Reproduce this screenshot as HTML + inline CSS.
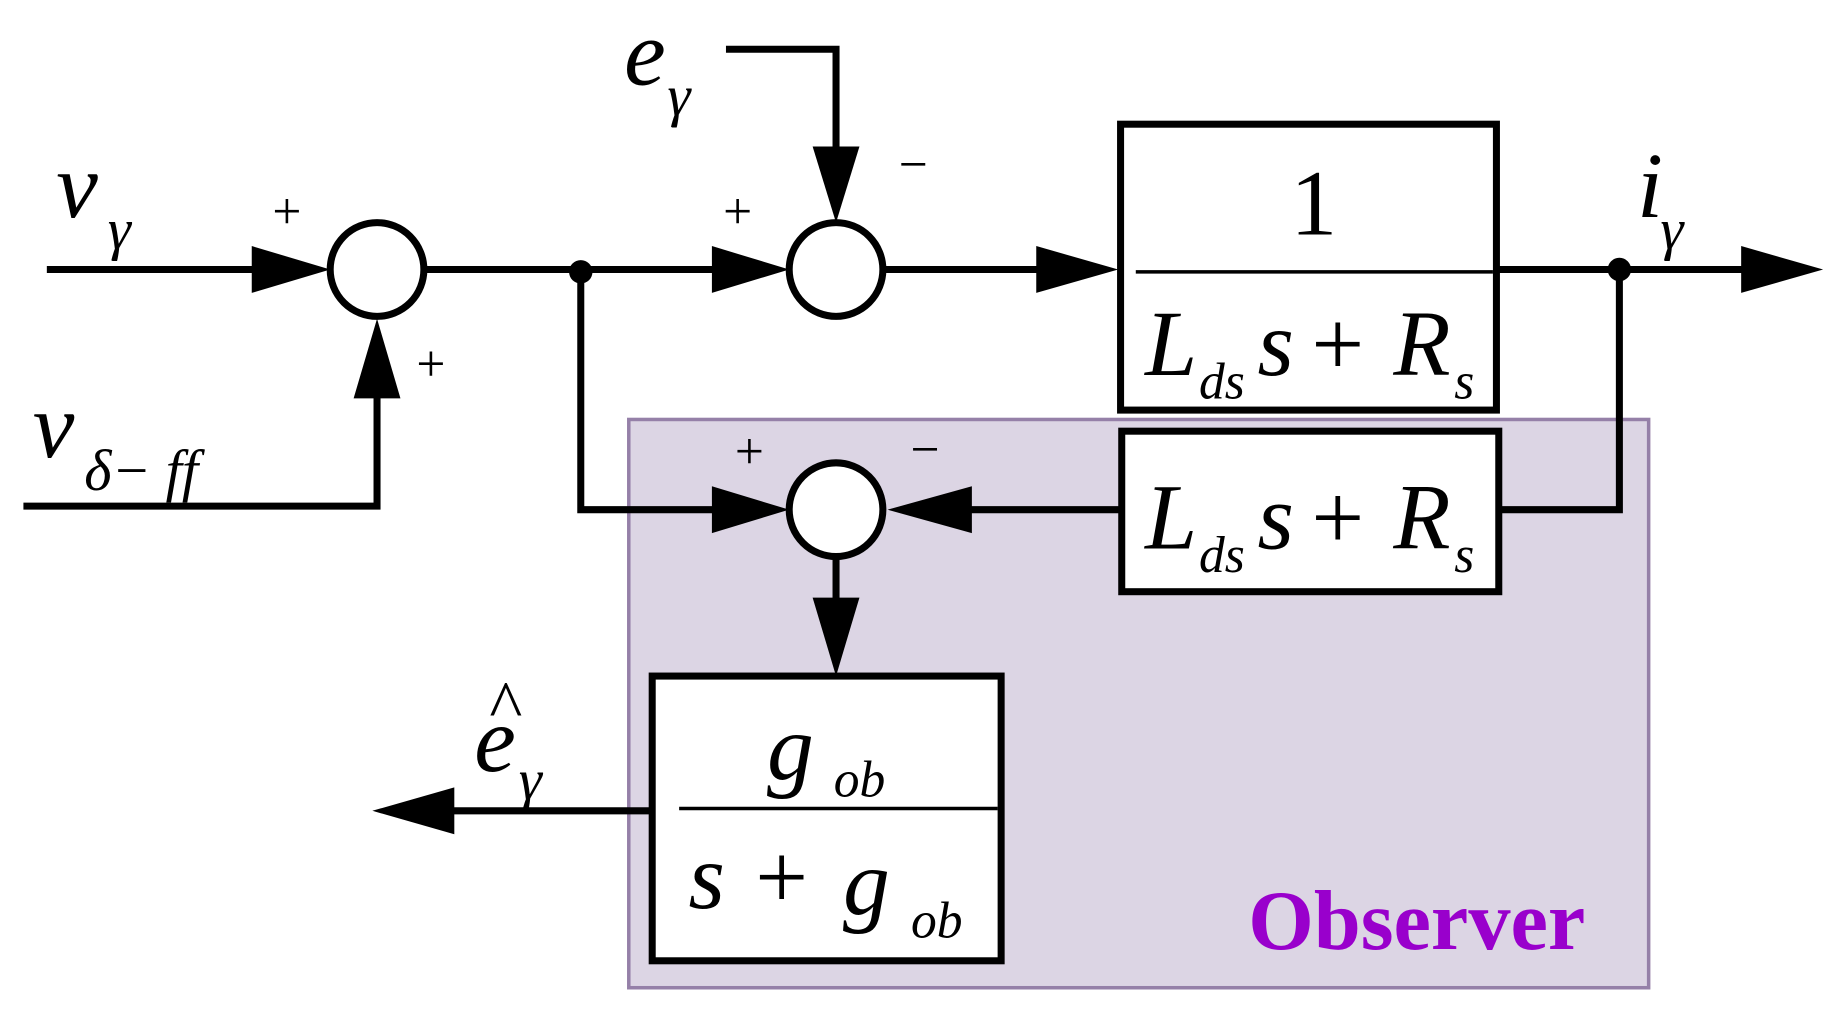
<!DOCTYPE html>
<html><head><meta charset="utf-8"><style>
html,body{margin:0;padding:0;background:#fff;width:1836px;height:1010px;overflow:hidden}
svg{display:block}
text{font-family:"Liberation Serif",serif}
.m{font-style:italic}
</style></head><body>
<svg width="1836" height="1010" viewBox="0 0 1568 862" preserveAspectRatio="none" xmlns="http://www.w3.org/2000/svg">
<rect x="537" y="358" width="871" height="485" fill="#dcd5e4" stroke="#9580a8" stroke-width="3"/>
<g stroke="#000" stroke-width="6" fill="none">
<line x1="40" y1="230" x2="225" y2="230"/>
<polyline points="20,432 322,432 322,335"/>
<line x1="362" y1="230" x2="615" y2="230"/>
<polyline points="620,42 714,42 714,130"/>
<line x1="754" y1="230" x2="890" y2="230"/>
<line x1="1278" y1="230" x2="1490" y2="230"/>
<polyline points="1383,230 1383,435 1280,435"/>
<line x1="958" y1="435" x2="825" y2="435"/>
<polyline points="496,232 496,435 615,435"/>
<line x1="714" y1="475" x2="714" y2="515"/>
<line x1="565" y1="692" x2="385" y2="692"/>
<rect x="957" y="106" width="321" height="244" fill="#fff"/>
<rect x="958" y="368" width="322" height="137" fill="#fff"/>
<rect x="557" y="577" width="298" height="243" fill="#fff"/>
<circle cx="322" cy="230" r="40" fill="#fff"/>
<circle cx="714" cy="230" r="40" fill="#fff"/>
<circle cx="714" cy="435" r="40" fill="#fff"/>
</g>
<g stroke="#000" stroke-width="3">
<line x1="970" y1="232" x2="1275" y2="232"/>
<line x1="580" y1="690" x2="852" y2="690"/>
</g>
<g fill="#000">
<polygon points="282,230 215,210 215,250"/>
<polygon points="322,272 302,340 342,340"/>
<polygon points="674,230 608,210 608,250"/>
<polygon points="714,190 694,125 734,125"/>
<polygon points="955,230 885,210 885,250"/>
<polygon points="1557,230 1487,210 1487,250"/>
<polygon points="758,435 830,415 830,455"/>
<polygon points="674,435 608,415 608,455"/>
<polygon points="714,577 694,510 734,510"/>
<polygon points="318,692 388,672 388,712"/>
<circle cx="496" cy="232" r="10"/>
<circle cx="1383" cy="230" r="10"/>
</g>
<g font-size="44" text-anchor="middle">
<text x="245" y="195">+</text>
<text x="368" y="325">+</text>
<text x="630" y="195">+</text>
<text x="780" y="155">−</text>
<text x="640" y="400">+</text>
<text x="790" y="398">−</text>
</g>
<g font-size="80" class="m">
<text x="48" y="185">v</text><text x="92" y="212" font-size="50">γ</text>
<text x="28" y="390">v</text><text x="72" y="418" font-size="50">δ− ff</text>
<text x="533" y="72">e</text><text x="570" y="98" font-size="50">γ</text>
<text x="1398" y="185">i</text><text x="1418" y="212" font-size="50">γ</text>
<text x="405" y="658">e</text><text x="418" y="622" font-size="60" font-style="normal">^</text><text x="443" y="682" font-size="50">γ</text>
</g>
<text x="1122" y="200" font-size="80" text-anchor="middle">1</text>
<g font-size="80">
<text x="978" y="320" class="m">L</text><text x="1024" y="340" font-size="44" class="m">ds</text><text x="1074" y="320" class="m">s</text><text x="1120" y="320">+</text><text x="1190" y="320" class="m">R</text><text x="1242" y="340" font-size="44" class="m">s</text>
<text x="978" y="468" class="m">L</text><text x="1024" y="488" font-size="44" class="m">ds</text><text x="1074" y="468" class="m">s</text><text x="1120" y="468">+</text><text x="1190" y="468" class="m">R</text><text x="1242" y="488" font-size="44" class="m">s</text>
<text x="655" y="665" class="m">g</text><text x="712" y="680" font-size="44" class="m">ob</text>
<text x="588" y="775" class="m">s</text><text x="645" y="775">+</text><text x="720" y="780" class="m">g</text><text x="778" y="800" font-size="44" class="m">ob</text>
</g>
<text x="1210" y="810" font-size="72" font-weight="bold" fill="#9900cc" text-anchor="middle">Observer</text>
</svg>
</body></html>
